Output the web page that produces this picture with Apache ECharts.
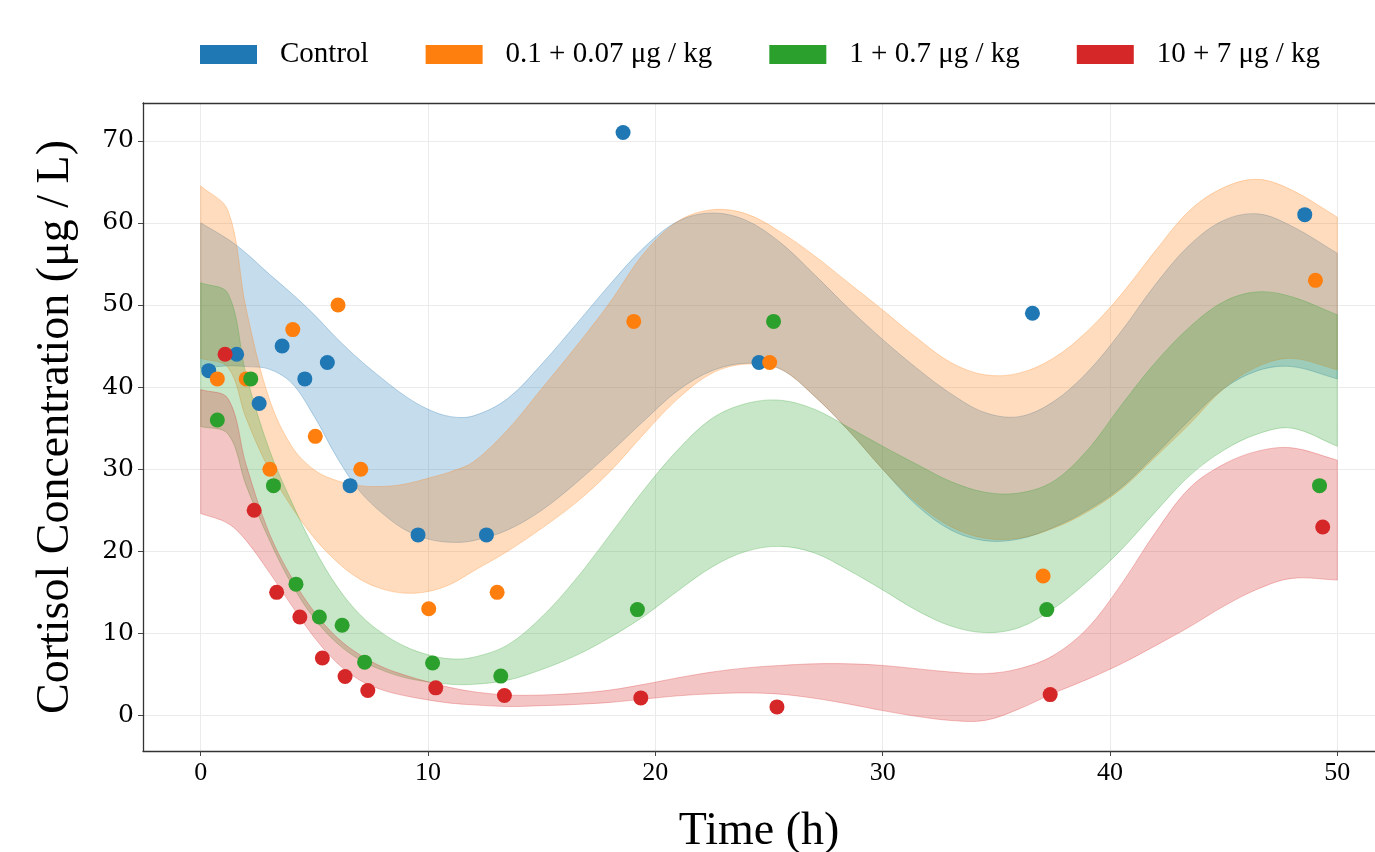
<!DOCTYPE html>
<html>
<head>
<meta charset="utf-8">
<title>Cortisol concentration</title>
<script src="https://cdn.jsdelivr.net/npm/echarts@6.0.0/dist/echarts.min.js"></script>
<style>
    html, body { margin: 0; padding: 0; background: #fff; }
    #chart { width: 1375px; height: 852px; }
</style>
</head>
<body>
<div id="chart"></div>
<script>
var bandTime = [0, 1.2, 2, 3, 4, 5, 6, 7, 8, 9, 10, 11, 12,
    13.5, 15, 16.5, 18, 19.5, 21, 22.5, 24, 25.5, 27, 28.5, 30, 31.5, 33,
    34.5, 36, 37.5, 39, 40.5, 42, 43.5, 45, 46.5, 48, 50];

// band edges, one pair per group
var controlLow = [42.3, 42.6, 42.5, 42.2, 40.5, 36.4, 31.4, 27.3, 24.6, 22.6, 21.5, 21.1, 21.3,
    22.6, 25.0, 28.3, 32.0, 35.9, 39.6, 42.0, 42.9, 42.2, 38.9, 34.7, 30.0, 25.6, 22.6,
    21.3, 21.5, 22.9, 25.0, 27.8, 31.8, 36.0, 39.8, 42.0, 42.5, 41.0];
var controlHigh = [60.0, 58.0, 56.3, 53.8, 51.4, 48.8, 45.9, 43.3, 41.0, 38.9, 37.3, 36.4, 36.5,
    38.6, 42.8, 47.6, 52.5, 57.0, 60.2, 61.2, 60.3, 57.6, 53.7, 49.6, 45.8, 42.3, 39.2,
    36.9, 36.4, 38.2, 41.8, 46.8, 52.5, 57.3, 60.3, 61.1, 59.6, 56.3];

var lowDoseLow = [43.5, 42.4, 36.2, 30.0, 25.4, 21.6, 18.7, 16.6, 15.4, 14.9, 15.1, 16.0, 17.6,
    20.0, 22.8, 25.9, 29.7, 34.3, 38.6, 41.7, 42.8, 42.2, 38.9, 34.7, 30.0, 25.9, 23.0,
    21.6, 21.6, 22.8, 24.8, 27.6, 31.5, 35.5, 39.8, 42.5, 43.5, 42.1];
var lowDoseHigh = [64.5, 61.5, 49.5, 38.7, 32.8, 29.9, 28.6, 28.0, 27.9, 28.2, 28.9, 29.7, 30.9,
    34.8, 39.8, 44.9, 50.3, 56.3, 60.2, 61.6, 61.1, 58.9, 56.0, 52.7, 49.4, 46.0, 43.0,
    41.5, 41.7, 43.5, 46.8, 51.3, 56.6, 61.5, 64.3, 65.3, 64.0, 60.7];

var midDoseLow = [35.2, 34.3, 28.0, 21.5, 16.0, 11.8, 8.8, 6.8, 5.5, 4.6, 4.1, 3.8, 3.8,
    4.3, 5.6, 7.3, 9.5, 12.1, 15.2, 18.1, 20.0, 20.6, 19.8, 17.7, 15.3, 12.8, 10.9,
    10.1, 10.7, 13.0, 16.3, 20.2, 24.8, 29.2, 32.3, 34.3, 35.0, 32.8];
var midDoseHigh = [52.7, 51.4, 41.5, 32.5, 26.0, 20.3, 15.7, 12.3, 10.0, 8.4, 7.4, 6.9, 7.1,
    8.6, 12.0, 16.6, 22.0, 27.5, 32.4, 36.2, 38.0, 38.4, 37.3, 35.1, 32.8, 30.6, 28.5,
    27.2, 27.1, 28.5, 32.3, 37.8, 43.0, 47.3, 50.4, 51.6, 51.0, 48.8];

var highDoseLow = [24.6, 23.4, 21.3, 17.5, 13.4, 9.5, 6.4, 4.3, 3.1, 2.4, 1.9, 1.5, 1.3,
    1.1, 1.2, 1.35, 1.6, 2.0, 2.4, 2.65, 2.75, 2.6, 2.1, 1.4, 0.6, -0.1, -0.6,
    -0.6, 0.8, 2.7, 4.4, 6.3, 8.5, 10.8, 13.3, 15.4, 16.7, 16.5];
var highDoseHigh = [39.7, 38.6, 30.5, 22.3, 16.8, 12.6, 9.5, 7.4, 5.9, 4.9, 4.1, 3.4, 2.9,
    2.5, 2.5, 2.7, 3.1, 3.8, 4.6, 5.3, 5.8, 6.1, 6.3, 6.3, 6.1, 5.7, 5.3,
    5.1, 5.7, 7.3, 10.6, 16.0, 22.3, 27.7, 30.6, 32.2, 32.6, 31.1];

// measured points (time is slightly shifted per group)
var controlX = [0.35, 1.58, 2.57, 3.58, 4.58, 5.57, 6.57, 9.56, 12.57, 18.58, 24.56, 36.59, 48.57];
var controlY = [42, 44, 38, 45, 41, 43, 28, 22, 22, 71, 43, 49, 61];
var lowDoseX = [0.73, 2.0, 3.04, 4.05, 5.04, 6.04, 7.04, 10.03, 13.04, 19.05, 25.03, 37.06, 49.04];
var lowDoseY = [41, 41, 30, 47, 34, 50, 30, 13, 15, 48, 43, 17, 53];
var midDoseX = [0.73, 2.2, 3.2, 4.19, 5.22, 6.22, 7.21, 10.2, 13.2, 19.21, 25.2, 37.22, 49.22];
var midDoseY = [36, 41, 28, 16, 12, 11, 6.5, 6.4, 4.8, 12.9, 48, 12.9, 28];
var highDoseX = [1.07, 2.35, 3.34, 4.36, 5.35, 6.35, 7.35, 10.34, 13.36, 19.36, 25.35, 37.37, 49.36];
var highDoseY = [44, 25, 15, 12, 7, 4.75, 3.05, 3.37, 2.44, 2.15, 1.05, 2.55, 22.96];

var groupNames = ['Control', '0.1 + 0.07 μg / kg', '1 + 0.7 μg / kg', '10 + 7 μg / kg'];
var xTicks = [0, 10, 20, 30, 40, 50];
var yTicks = [0, 10, 20, 30, 40, 50, 60, 70];

var colors = ['#1f77b4', '#ff7f0e', '#2ca02c', '#d62728'];
var fills = ['rgba(31,119,180,0.26)', 'rgba(255,127,14,0.27)', 'rgba(44,160,44,0.26)', 'rgba(214,39,40,0.27)'];
var edges = ['rgba(31,119,180,0.3)', 'rgba(255,127,14,0.28)', 'rgba(44,160,44,0.28)', 'rgba(214,39,40,0.28)'];

var serif = 'Liberation Serif';

// one custom series per band: the whole ribbon is drawn as one smoothed polygon
function bandSeries(key, low, high, i) {
    var data = [];
    for (var k = 0; k < bandTime.length; k++) {
        data.push([bandTime[k], low[k], high[k]]);
    }
    return {
        name: key + '-band',
        type: 'custom',
        data: data,
        encode: {x: 0, y: [1, 2]},
        silent: true,
        clip: true,
        z: 1,
        renderItem: function (params, api) {
            if (params.dataIndex !== 0) {
                return null;
            }
            var n = bandTime.length;
            var pts = [];
            // upper edge left -> right, ends doubled so the ribbon keeps square ends
            pts.push(api.coord([bandTime[0], high[0]]));
            for (var a = 0; a < n; a++) {
                pts.push(api.coord([bandTime[a], high[a]]));
            }
            pts.push(api.coord([bandTime[n - 1], high[n - 1]]));
            pts.push(api.coord([bandTime[n - 1], low[n - 1]]));
            for (var b = n - 1; b >= 0; b--) {
                pts.push(api.coord([bandTime[b], low[b]]));
            }
            pts.push(api.coord([bandTime[0], low[0]]));
            return {
                type: 'polygon',
                shape: {points: pts, smooth: 0.35},
                style: {fill: fills[i], stroke: edges[i], lineWidth: 1}
            };
        }
    };
}

function pointSeries(name, xs, ys, i) {
    var data = [];
    for (var k = 0; k < xs.length; k++) {
        data.push([xs[k], ys[k]]);
    }
    return {
        name: name,
        type: 'scatter',
        data: data,
        symbolSize: 15,
        z: 5,
        itemStyle: {color: colors[i], opacity: 1}
    };
}

var series = [
    bandSeries('control', controlLow, controlHigh, 0),
    bandSeries('low', lowDoseLow, lowDoseHigh, 1),
    bandSeries('mid', midDoseLow, midDoseHigh, 2),
    bandSeries('high', highDoseLow, highDoseHigh, 3),
    pointSeries(groupNames[0], controlX, controlY, 0),
    pointSeries(groupNames[1], lowDoseX, lowDoseY, 1),
    pointSeries(groupNames[2], midDoseX, midDoseY, 2),
    pointSeries(groupNames[3], highDoseX, highDoseY, 3)
];

var chart = echarts.init(document.getElementById('chart'));

var option = {
    animation: false,
    backgroundColor: '#fff',
    color: colors,
    legend: {
        data: groupNames,
        left: 195,
        top: 35,
        icon: 'rect',
        itemWidth: 57,
        itemHeight: 19,
        itemGap: 57,
        textStyle: {fontFamily: serif, fontSize: 29, color: '#000', padding: [0, 0, 0, 18]}
    },
    grid: {left: 143, right: 0, top: 103, bottom: 101, containLabel: false, outerBoundsMode: 'none'},
    xAxis: [{
        type: 'value',
        min: -2.54,
        max: 51.66,
        position: 'bottom',
        name: 'Time (h)',
        nameLocation: 'middle',
        nameGap: 58,
        nameTextStyle: {fontFamily: serif, fontSize: 46, color: '#000'},
        axisLine: {show: true, onZero: false, lineStyle: {color: '#333', width: 1.3}},
        axisTick: {show: true, customValues: xTicks, length: 5, lineStyle: {color: '#444'}},
        axisLabel: {customValues: xTicks, fontFamily: serif, fontSize: 26, color: '#000', margin: 9},
        splitLine: {show: true, lineStyle: {color: '#ebebeb', width: 1}}
    }, {
        type: 'value',
        min: -2.54,
        max: 51.66,
        position: 'top',
        axisLine: {show: true, onZero: false, lineStyle: {color: '#333', width: 1.3}},
        axisTick: {show: false},
        axisLabel: {show: false},
        splitLine: {show: false}
    }],
    yAxis: {
        type: 'value',
        min: -4.32,
        max: 74.6,
        name: 'Cortisol Concentration (μg / L)',
        nameLocation: 'middle',
        nameGap: 64,
        nameTextStyle: {fontFamily: serif, fontSize: 46, color: '#000'},
        axisLine: {show: true, onZero: false, lineStyle: {color: '#333', width: 1.3}},
        axisTick: {show: true, customValues: yTicks, length: 5, lineStyle: {color: '#444'}},
        axisLabel: {customValues: yTicks, fontFamily: 'DejaVu Serif', fontSize: 25, color: '#000', margin: 9},
        splitLine: {show: true, lineStyle: {color: '#ebebeb', width: 1}}
    },
    series: series
};

chart.setOption(option);
window.addEventListener('resize', function () {
    chart.resize();
});
</script>
</body>
</html>
